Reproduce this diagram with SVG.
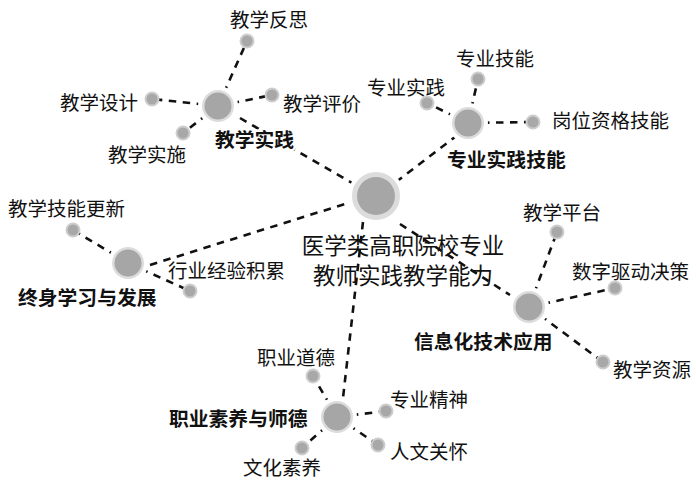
<svg xmlns="http://www.w3.org/2000/svg" width="696" height="480" viewBox="0 0 696 480">
<style>
.bg{fill:#fff}
.ln{stroke:#111;stroke-width:2.6;stroke-dasharray:7.5 6.5;fill:none}
.ring{fill:#dcdcdc;stroke:#fff;stroke-width:4}
.core{fill:#a6a6a6}
.dot{fill:#a8a8a8;stroke:#cdcdcd;stroke-width:2}
.t{font-family:"Noto Sans CJK SC","Noto Sans",sans-serif;font-size:19.5px;fill:#111;dominant-baseline:central}
.b{font-family:"Noto Sans CJK SC","Noto Sans",sans-serif;font-size:19.8px;font-weight:bold;fill:#111;dominant-baseline:central;paint-order:stroke;stroke:#fff;stroke-width:5;stroke-linejoin:round}
.c{font-family:"Noto Sans CJK SC","Noto Sans",sans-serif;font-size:22.5px;fill:#111;dominant-baseline:central;text-anchor:middle}
</style>
<rect class="bg" x="0" y="0" width="696" height="480"/>
<g id="connectors">
<line class="ln" x1="240" y1="118" x2="352" y2="183"/>
<line class="ln" x1="396" y1="182" x2="455" y2="137"/>
<line class="ln" x1="150" y1="265" x2="345" y2="204"/>
<line class="ln" x1="363" y1="222" x2="343" y2="398"/>
<line class="ln" x1="400" y1="224" x2="510" y2="295"/>
<line class="ln" x1="218" y1="106" x2="247" y2="41"/>
<line class="ln" x1="218" y1="106" x2="152" y2="99"/>
<line class="ln" x1="218" y1="106" x2="183" y2="133"/>
<line class="ln" x1="218" y1="106" x2="272" y2="95"/>
<line class="ln" x1="468" y1="123" x2="478" y2="79"/>
<line class="ln" x1="468" y1="123" x2="427" y2="103"/>
<line class="ln" x1="468" y1="123" x2="533" y2="122"/>
<line class="ln" x1="128" y1="263" x2="73" y2="230"/>
<line class="ln" x1="128" y1="263" x2="190" y2="291"/>
<line class="ln" x1="529" y1="307" x2="557" y2="232"/>
<line class="ln" x1="529" y1="307" x2="615" y2="288"/>
<line class="ln" x1="529" y1="307" x2="603" y2="362"/>
<line class="ln" x1="337" y1="417" x2="313" y2="376"/>
<line class="ln" x1="337" y1="417" x2="386" y2="411"/>
<line class="ln" x1="337" y1="417" x2="378" y2="445"/>
<line class="ln" x1="337" y1="417" x2="302" y2="448"/>
</g>
<g id="center">
<circle class="ring" cx="376" cy="196" r="26"/>
<circle class="core" cx="376" cy="196" r="19"/>
<text class="c" x="403" y="244">医学类高职院校专业</text>
<text class="c" x="403" y="274">教师实践教学能力</text>
</g>
<g id="teaching-practice">
<circle class="ring" cx="218" cy="106" r="18"/>
<circle class="core" cx="218" cy="106" r="13.5"/>
<text class="b" x="215" y="138">教学实践</text>
</g>
<g id="n-fansi"><circle class="dot" cx="247" cy="41" r="6.5"/><text class="t" x="230" y="18">教学反思</text></g>
<g id="n-sheji"><circle class="dot" cx="152" cy="99" r="6.5"/><text class="t" x="60" y="101">教学设计</text></g>
<g id="n-shishi"><circle class="dot" cx="183" cy="133" r="6.5"/><text class="t" x="108" y="153">教学实施</text></g>
<g id="n-pingjia"><circle class="dot" cx="272" cy="95" r="6.5"/><text class="t" x="283" y="102">教学评价</text></g>
<g id="professional-skills">
<circle class="ring" cx="468" cy="123" r="18"/>
<circle class="core" cx="468" cy="123" r="13.5"/>
<text class="b" x="447" y="158">专业实践技能</text>
</g>
<g id="n-zhuanyejineng"><circle class="dot" cx="478" cy="79" r="6.5"/><text class="t" x="456" y="57">专业技能</text></g>
<g id="n-zhuanyeshijian"><circle class="dot" cx="427" cy="103" r="6.5"/><text class="t" x="367" y="86">专业实践</text></g>
<g id="n-gangwei"><circle class="dot" cx="533" cy="122" r="6.5"/><text class="t" x="552" y="119">岗位资格技能</text></g>
<g id="lifelong">
<circle class="ring" cx="128" cy="263" r="18"/>
<circle class="core" cx="128" cy="263" r="13.5"/>
<text class="b" x="18" y="296">终身学习与发展</text>
</g>
<g id="n-gengxin"><circle class="dot" cx="73" cy="230" r="6.5"/><text class="t" x="8" y="207">教学技能更新</text></g>
<g id="n-jingyan"><circle class="dot" cx="190" cy="291" r="6.5"/><text class="t" x="168" y="269">行业经验积累</text></g>
<g id="informatization">
<circle class="ring" cx="529" cy="307" r="18"/>
<circle class="core" cx="529" cy="307" r="13.5"/>
<text class="b" x="414" y="340">信息化技术应用</text>
</g>
<g id="n-pingtai"><circle class="dot" cx="557" cy="232" r="6.5"/><text class="t" x="523" y="211">教学平台</text></g>
<g id="n-juece"><circle class="dot" cx="615" cy="288" r="6.5"/><text class="t" x="572" y="270">数字驱动决策</text></g>
<g id="n-ziyuan"><circle class="dot" cx="603" cy="362" r="6.5"/><text class="t" x="613" y="368">教学资源</text></g>
<g id="ethics">
<circle class="ring" cx="337" cy="417" r="18"/>
<circle class="core" cx="337" cy="417" r="13.5"/>
<text class="b" x="169" y="417">职业素养与师德</text>
</g>
<g id="n-daode"><circle class="dot" cx="313" cy="376" r="6.5"/><text class="t" x="257" y="356">职业道德</text></g>
<g id="n-jingshen"><circle class="dot" cx="386" cy="411" r="6.5"/><text class="t" x="390" y="398">专业精神</text></g>
<g id="n-guanhuai"><circle class="dot" cx="378" cy="445" r="6.5"/><text class="t" x="390" y="450">人文关怀</text></g>
<g id="n-suyang"><circle class="dot" cx="302" cy="448" r="6.5"/><text class="t" x="243" y="466">文化素养</text></g>
</svg>
